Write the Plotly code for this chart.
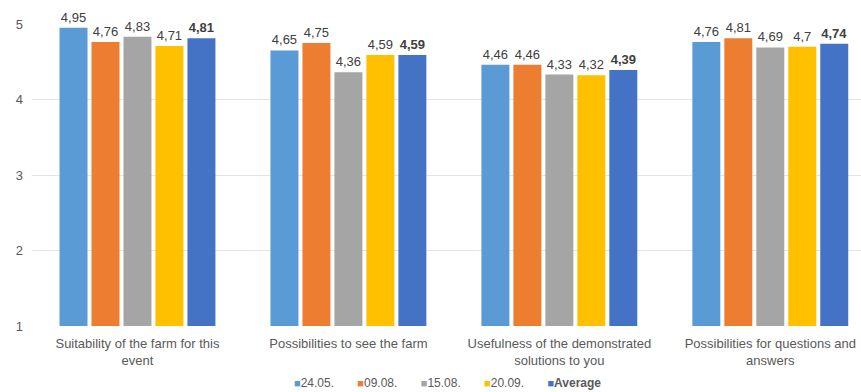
import plotly.graph_objects as go

# Survey ratings per question and event date
categories = [
    "Suitability of the farm for this<br>event",
    "Possibilities to see the farm",
    "Usefulness of the demonstrated<br>solutions to you",
    "Possibilities for questions and<br>answers",
]
series_names = ["24.05.", "09.08.", "15.08.", "20.09.", "Average"]
vals_2405 = [4.95, 4.65, 4.46, 4.76]
vals_0908 = [4.76, 4.75, 4.46, 4.81]
vals_1508 = [4.83, 4.36, 4.33, 4.69]
vals_2009 = [4.71, 4.59, 4.32, 4.70]
vals_avg = [4.81, 4.59, 4.39, 4.74]
y_ticks = [1, 2, 3, 4, 5]

series_values = [vals_2405, vals_0908, vals_1508, vals_2009, vals_avg]
colors = ["#5B9BD5", "#ED7D31", "#A5A5A5", "#FFC000", "#4472C4"]

FONT = "Arial, Liberation Sans, sans-serif"
TEXT_COLOR = "#595959"


def fmt(v, bold=False):
    s = f"{v:g}".replace(".", ",")
    return f"<b>{s}</b>" if bold else s


fig = go.Figure()
x_idx = list(range(len(categories)))
for name, vals, col in zip(series_names, series_values, colors):
    bold = name == "Average"
    fig.add_trace(go.Bar(
        x=x_idx,
        y=[v - 1 for v in vals],
        base=1,
        name=name,
        marker=dict(color=col, line=dict(width=0)),
        text=[fmt(v, bold) for v in vals],
        textposition="outside",
        textfont=dict(family=FONT, size=13, color="#404040"),
        cliponaxis=False,
        showlegend=False,
        hovertemplate="%{y}<extra>" + name + "</extra>",
    ))

# Compact legend row: small coloured square directly followed by the series name
legend_parts = []
for name, col in zip(series_names, colors):
    label = f"<b>{name}</b>" if name == "Average" else name
    legend_parts.append(
        f"<span style='color:{col};font-size:11px'>■</span>{label}"
    )
legend_text = "&nbsp;&nbsp;&nbsp;&nbsp;&nbsp;&nbsp;&nbsp;".join(legend_parts)
fig.add_annotation(
    text=legend_text,
    xref="paper", yref="paper",
    x=0.501, y=-0.19,
    xanchor="center", yanchor="middle",
    showarrow=False,
    font=dict(family=FONT, size=12, color=TEXT_COLOR),
)

fig.update_layout(
    width=861,
    height=392,
    margin=dict(l=32, r=0, t=24, b=66, autoexpand=False),
    paper_bgcolor="white",
    plot_bgcolor="white",
    barmode="group",
    bargap=0.242,
    bargroupgap=0.125,
    showlegend=False,
    font=dict(family=FONT, size=13, color=TEXT_COLOR),
    xaxis=dict(
        range=[-0.5, 3.43],
        tickmode="array",
        tickvals=x_idx,
        ticktext=categories,
        showgrid=False,
        zeroline=False,
        showline=False,
        ticks="",
        ticklabelstandoff=8,
        automargin=False,
        tickfont=dict(family=FONT, size=13, color=TEXT_COLOR),
        fixedrange=True,
    ),
    yaxis=dict(
        range=[1, 5],
        tickmode="array",
        tickvals=y_ticks,
        ticktext=[str(t) for t in y_ticks],
        showgrid=True,
        gridcolor="#E3E3E3",
        gridwidth=1,
        zeroline=False,
        showline=False,
        ticks="",
        ticklabelstandoff=8,
        automargin=False,
        tickfont=dict(family=FONT, size=13, color=TEXT_COLOR),
        fixedrange=True,
    ),
)

fig.write_html("out.html")
